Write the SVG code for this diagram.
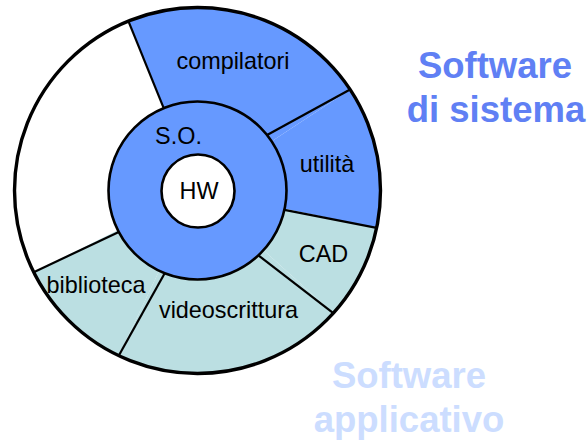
<svg xmlns="http://www.w3.org/2000/svg" width="587" height="445" viewBox="0 0 587 445">
<style>
.blue{fill:#6699FF;stroke:none}
.teal{fill:#BBDFE2;stroke:none}
.div{stroke:#000;stroke-width:2.2;fill:none}
.lbl{font-family:"Liberation Sans",Arial,sans-serif;font-size:23.4px;fill:#000;text-anchor:middle}
.big{font-family:"Liberation Sans",Arial,sans-serif;font-size:36.5px;font-weight:bold;text-anchor:middle}
</style>
<rect width="587" height="445" fill="#fff"/>
<g id="compilatori">
<path class="blue" d="M197.5,190.5 L128.4,21.1 A183,183 0 0 1 350.1,89.5 Z"/>
<text class="lbl" x="233" y="69">compilatori</text>
</g>
<g id="utilita">
<path class="blue" d="M197.5,190.5 L350.1,89.5 A183,183 0 0 1 376.6,227.9 Z"/>
<text class="lbl" x="327" y="172">utilità</text>
</g>
<g id="cad">
<path class="teal" d="M197.5,190.5 L376.6,227.9 A183,183 0 0 1 333.3,313.2 Z"/>
<text class="lbl" x="323.5" y="262">CAD</text>
</g>
<g id="videoscrittura">
<path class="teal" d="M197.5,190.5 L333.3,313.2 A183,183 0 0 1 118.7,355.7 Z"/>
<text class="lbl" x="228.5" y="318">videoscrittura</text>
</g>
<g id="biblioteca">
<path class="teal" d="M197.5,190.5 L118.7,355.7 A183,183 0 0 1 33.7,272.2 Z"/>
<text class="lbl" x="96" y="293">biblioteca</text>
</g>
<g id="connectors">
<line class="div" x1="163.7" y1="108.2" x2="128.4" y2="21.1"/>
<line class="div" x1="267.1" y1="135.0" x2="350.1" y2="89.5"/>
<line class="div" x1="284.4" y1="209.9" x2="376.6" y2="227.9"/>
<line class="div" x1="258.4" y1="255.4" x2="333.3" y2="313.2"/>
<line class="div" x1="164.7" y1="273.3" x2="118.7" y2="355.7"/>
<line class="div" x1="118.8" y1="232.0" x2="33.7" y2="272.2"/>
</g>
<g id="outer">
<circle cx="197.5" cy="190.5" r="183" fill="none" stroke="#000" stroke-width="3.4"/>
</g>
<g id="so">
<circle cx="197.5" cy="190.5" r="89" fill="#6699FF" stroke="#000" stroke-width="2.6"/>
<text class="lbl" x="178.5" y="144">S.O.</text>
</g>
<g id="hw">
<circle cx="198" cy="191" r="36.5" fill="#fff" stroke="#000" stroke-width="2.6"/>
<text class="lbl" x="199" y="199">HW</text>
</g>
<g id="sw-sistema">
<text class="big" x="495" y="78" fill="#6080F4">Software</text>
<text class="big" x="496" y="122" fill="#6080F4">di sistema</text>
</g>
<g id="sw-applicativo">
<text class="big" x="409" y="388" fill="#CCDDFF">Software</text>
<text class="big" x="409" y="432" fill="#CCDDFF">applicativo</text>
</g>
</svg>
